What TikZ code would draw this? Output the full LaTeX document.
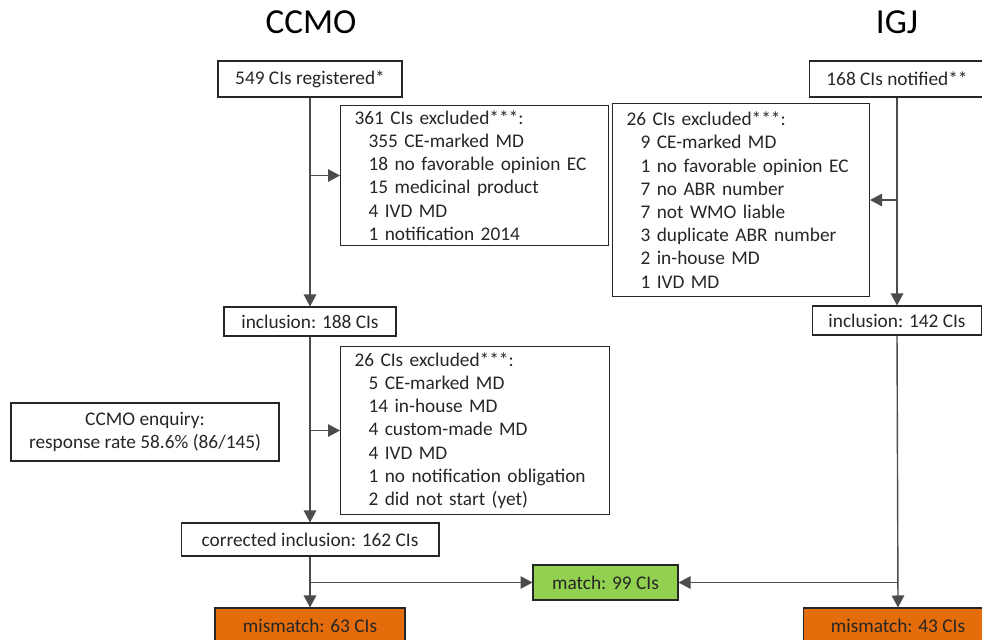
\documentclass[tikz,border=0pt]{standalone}
\usepackage{fontspec}
\setmainfont{Carlito}
\usepackage{tikz}
\usepackage{xcolor}
\usetikzlibrary{positioning,arrows.meta,shapes,calc}
\definecolor{mismatchorange}{HTML}{E46C0A}
\definecolor{matchgreen}{HTML}{92D050}
\newcommand{\ind}{\hspace*{0.28cm}}

\begin{document}
\begin{tikzpicture}[x=0.02cm, y=-0.02cm,
    box/.style={draw=black!85, line width=0.6pt, inner sep=0pt, text=black!85,
        font=\fontsize{11}{13.2}\selectfont},
    exclbox/.style={box, anchor=north west, align=left, inner xsep=0.28cm},
    titletext/.style={font=\fontsize{20}{24}\selectfont, text=black},
    flow/.style={draw=black!70, line width=0.8pt},
    arr/.style={flow, -{Triangle[length=2.4mm,width=2.5mm]}}]
    \useasboundingbox (0,0) rectangle (982,639);
    \clip (0,0) rectangle (982,639);

    % Titles
    \node[titletext] (ccmo) at (311,22) {CCMO};
    \node[titletext] (igj) at (897,22) {IGJ};

    % CCMO side
    \node[box, minimum width=3.68cm, minimum height=0.72cm] (reg) at (310,79) {549 CIs registered*};
    \node[exclbox, text width=4.8cm, minimum height=2.8cm] (excla) at (340,105)
        {361 CIs excluded***:\\
         \ind 355 CE-marked MD\\
         \ind 18 no favorable opinion EC\\
         \ind 15 medicinal product\\
         \ind 4 IVD MD\\
         \ind 1 notification 2014};
    \node[box, minimum width=3.44cm, minimum height=0.58cm] (inca) at (310,321.5) {inclusion: 188 CIs};
    \node[exclbox, text width=4.82cm, minimum height=3.36cm] (exclb) at (340,346)
        {26 CIs excluded***:\\
         \ind 5 CE-marked MD\\
         \ind 14 in-house MD\\
         \ind 4 custom-made MD\\
         \ind 4 IVD MD\\
         \ind 1 no notification obligation\\
         \ind 2 did not start (yet)};
    \node[box, align=center, minimum width=5.36cm, minimum height=1.16cm] (enq) at (145,432)
        {CCMO enquiry:\\response rate 58.6\% (86/145)};
    \node[box, minimum width=5.16cm, minimum height=0.66cm] (corr) at (310,539.5) {corrected inclusion: 162 CIs};
    \node[box, fill=mismatchorange, minimum width=3.8cm, minimum height=0.72cm] (misa) at (310,626) {mismatch: 63 CIs};

    % Match
    \node[box, fill=matchgreen, minimum width=2.9cm, minimum height=0.7cm] (match) at (605.5,582.5) {match: 99 CIs};

    % IGJ side
    \node[box, minimum width=3.52cm, minimum height=0.72cm] (notif) at (897,79) {168 CIs notified**};
    \node[exclbox, text width=4.58cm, minimum height=3.86cm] (exclc) at (612,103)
        {26 CIs excluded***:\\
         \ind 9 CE-marked MD\\
         \ind 1 no favorable opinion EC\\
         \ind 7 no ABR number\\
         \ind 7 not WMO liable\\
         \ind 3 duplicate ABR number\\
         \ind 2 in-house MD\\
         \ind 1 IVD MD};
    \node[box, minimum width=3.4cm, minimum height=0.58cm] (incb) at (897,320.5) {inclusion: 142 CIs};
    \node[box, fill=mismatchorange, minimum width=3.8cm, minimum height=0.72cm] (misb) at (898,626) {mismatch: 43 CIs};

    % CCMO connectors
    \draw[arr] (reg.south) -- (inca.north);
    \draw[arr] (reg.south |- excla.west) -- (excla.west);
    \draw[arr] (inca.south) -- (corr.north);
    \draw[arr] (inca.south |- exclb.west) -- (exclb.west);
    \draw[arr] (corr.south) -- (misa.north);
    \draw[arr] (corr.south |- match.west) -- (match.west);

    % IGJ connectors
    \draw[arr] (notif.south) -- (incb.north);
    \draw[arr] (notif.south |- exclc.east) -- (exclc.east);
    \draw[arr] (incb.south) -- (misb.north);
    \draw[arr] (incb.south |- match.east) -- (match.east);
\end{tikzpicture}
\end{document}
